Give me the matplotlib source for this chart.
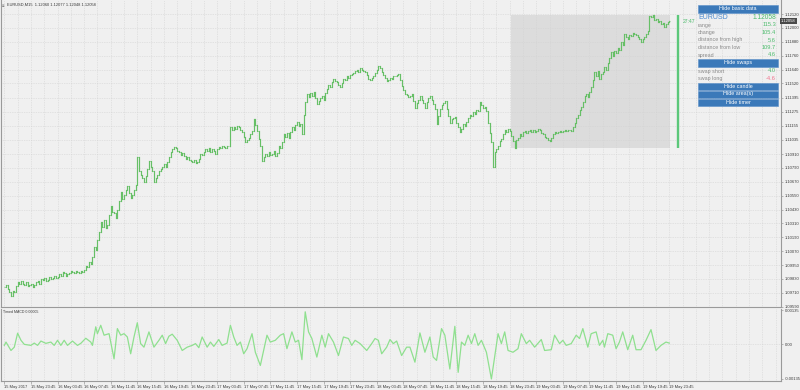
import numpy as np
import matplotlib
matplotlib.use("Agg")
import matplotlib.pyplot as plt
from matplotlib.patches import Rectangle
from matplotlib.transforms import blended_transform_factory

plt.rcParams['font.family'] = ['Liberation Sans', 'DejaVu Sans']

# EURUSD M15 closes, in pips above 1.09000 (bar 0 = 15 May 19:45, bar 400 = 19 May 23:45)
closes = [
    76, 78, 74, 72, 68, 73, 72, 77, 80, 79,
    81, 79, 78, 80, 77, 78, 79, 76, 78, 80,
    81, 79, 83, 82, 84, 81, 82, 85, 83, 84,
    86, 84, 85, 87, 86, 89, 88, 86, 87, 88,
    90, 89, 88, 90, 89, 88, 90, 89, 91, 94,
    93, 98, 96, 102, 111, 108, 117, 124, 132, 128,
    134, 127, 130, 138, 146, 141, 140, 136, 143, 150,
    158, 152, 156, 160, 163, 157, 153, 156, 160, 164,
    188, 176, 173, 170, 167, 172, 178, 185, 180, 176,
    167, 170, 173, 176, 178, 180, 182, 180, 184, 188,
    193, 195, 197, 196, 194, 193, 190, 192, 189, 187,
    188, 186, 185, 184, 186, 183, 184, 187, 191, 190,
    193, 195, 194, 196, 193, 195, 194, 191, 195, 197,
    196, 198, 197, 196, 198, 198, 214, 212, 214, 213,
    215, 214, 212, 210, 206, 201, 203, 205, 208, 211,
    221, 216, 211, 204, 198, 185, 188, 191, 189, 193,
    190, 191, 194, 189, 192, 198, 196, 201, 208, 206,
    209, 205, 210, 214, 212, 216, 219, 215, 217, 208,
    225, 236, 243, 240, 244, 241, 245, 239, 234, 237,
    239, 241, 238, 244, 247, 251, 249, 253, 256, 254,
    253, 251, 249, 252, 256, 255, 258, 257, 259, 260,
    261, 263, 264, 262, 265, 264, 263, 262, 259, 256,
    255, 257, 258, 261, 264, 267, 265, 262, 259, 257,
    254, 255, 257, 256, 258, 258, 259, 260, 255, 250,
    246, 243, 242, 240, 241, 243, 237, 231, 235, 238,
    241, 238, 235, 231, 236, 239, 241, 238, 234, 230,
    217, 224, 230, 233, 235, 237, 230, 224, 218, 221,
    222, 223, 218, 214, 210, 213, 217, 215, 219, 222,
    225, 224, 227, 226, 229, 228, 236, 233, 231, 232,
    228, 218, 209, 201, 180, 193, 195, 198, 202, 204,
    208, 212, 210, 213, 211, 207, 202, 196, 203, 205,
    208, 207, 210, 211, 209, 211, 212, 210, 212, 210,
    211, 213, 212, 209, 208, 206, 205, 203, 202, 205,
    208, 210, 209, 210, 211, 210, 211, 212, 211, 212,
    212, 211, 214, 218, 222, 225, 229, 232, 236, 241,
    243, 240, 245, 249, 255, 262, 258, 263, 256, 260,
    262, 266, 264, 270, 274, 279, 276, 280, 278, 283,
    281, 288, 285, 295, 292, 290, 294, 293, 296, 295,
    294, 292, 290, 288, 290, 292, 295, 297, 310, 309,
    311, 307, 308, 305, 306, 303, 304, 301, 303, 305,
    305.8,
]

# Timed MACD readings (bar index, value in 1e-5)
macd_idx = [0, 1, 4, 6, 8, 10, 12, 16, 18, 20, 22, 25, 28, 30, 32, 34, 36, 38, 41, 44,
            46, 49, 52, 53, 55, 56, 58, 60, 63, 66, 68, 70, 72, 74, 76, 78, 80, 82, 84, 87,
            90, 93, 95, 97, 99, 101, 104, 107, 110, 113, 115, 117, 119, 122, 124, 126, 129, 131, 134, 136,
            138, 140, 142, 144, 146, 149, 151, 154, 156, 158, 160, 163, 166, 168, 170, 173, 175, 177, 179, 181,
            183, 185, 188, 191, 193, 195, 198, 201, 204, 207, 209, 211, 214, 218, 221, 223, 225, 227, 230, 232,
            234, 236, 239, 242, 244, 247, 250, 253, 256, 258, 260, 263, 265, 268, 271, 273, 275, 277, 279, 281,
            283, 285, 287, 290, 293, 297, 299, 301, 303, 306, 309, 311, 314, 316, 319, 323, 325, 329, 331, 334,
            336, 338, 341, 344, 346, 348, 351, 353, 356, 358, 360, 361, 363, 366, 368, 370, 372, 375, 378, 380,
            383, 386, 389, 392, 395, 398, 400]
macd_val = [-4, 9, -24, -11, 44, 16, 0, -4, 5, -4, 13, 4, 9, -4, 16, -4, 16, -4, 13, -4,
            4, 24, 9, -4, 69, 42, 75, 36, 42, -57, 62, 36, 42, 29, -37, 29, 85, 3, -11, 49,
            -11, 16, 36, 3, 32, 40, 16, -24, -11, -4, 3, -13, 29, -11, 9, -8, 19, -4, 5, 75,
            29, -4, 9, -37, -17, 42, -31, -83, -24, 36, 9, 16, 36, 42, -17, 49, 9, 16, -60, 128,
            49, 23, -50, 36, -11, 42, 9, -44, 29, 23, -4, 16, 3, -24, 3, 23, 16, -37, -11, 19,
            3, 13, -44, -11, -11, -70, 45, -31, 29, -50, -63, 62, 36, -97, 71, -110, 9, -4, 36, 3,
            42, -4, 16, -31, -136, 42, 3, 49, -24, -31, -17, 42, 3, 16, -11, 19, -24, -21, 36, 3,
            16, -4, 3, 36, 23, 62, -11, 42, 49, -4, 16, -11, 42, 36, -17, 9, 49, -21, 36, -21,
            -21, 16, 58, -24, -4, 9, 5]

price_labels = ["1.12120", "1.12000", "1.11880", "1.11760", "1.11640", "1.11520", "1.11395",
                "1.11275", "1.11155", "1.11035", "1.10910", "1.10790", "1.10670", "1.10550",
                "1.10430", "1.10310", "1.10190", "1.10070", "1.09950", "1.09830", "1.09710",
                "1.09590"]
time_labels = ["15 May 2017", "15 May 23:45", "16 May 03:45", "16 May 07:45", "16 May 11:45",
               "16 May 15:45", "16 May 19:45", "16 May 23:45", "17 May 03:45", "17 May 07:45",
               "17 May 11:45", "17 May 15:45", "17 May 19:45", "17 May 23:45", "18 May 03:45",
               "18 May 07:45", "18 May 11:45", "18 May 15:45", "18 May 19:45", "18 May 23:45",
               "19 May 03:45", "19 May 07:45", "19 May 11:45", "19 May 15:45", "19 May 19:45",
               "19 May 23:45"]

# today's stats (19 May)
day_start = 305
day_high = 1.12114
day_low = 1.10961
last_price = 1.12058

info_rows = [("range", "115.3"), ("change", "105.4"), ("distance from high", "5.6"),
             ("distance from low", "109.7"), ("spread", "4.6")]
swap_rows = [("swap short", "4.0"), ("swap long", "-4.6")]

BG = "#f0f0f0"
BAR = "#66bf66"
GRID = "#d2d2d2"
FRAME = "#9a9a9a"
TXT = "#3a3a3a"
BTN = "#3b79b9"
VAL = "#4cbb6c"

W, H = 800, 390


def px_axes(fig, left, top, right, bottom):
    return fig.add_axes([left / W, 1 - bottom / H, (right - left) / W, (bottom - top) / H])


fig = plt.figure(figsize=(8, 3.9), dpi=100, facecolor=BG)
ax = px_axes(fig, 1, 0, 781, 307)
ax2 = px_axes(fig, 1, 309, 781, 381)

c = 1.09 + np.array(closes) / 10000
o = np.r_[c[0], c[:-1]]
idx = np.arange(len(c))

for a in (ax, ax2):
    a.set_facecolor(BG)
    a.set_xlim(-2.0, 467.2)
    for s in a.spines.values():
        s.set_color(FRAME)
        s.set_linewidth(0.8)
    a.spines['top'].set_visible(False)
    for g in np.arange(0, 468, 8):
        a.axvline(g, color=GRID, lw=0.5, ls=(0, (1, 1.5)), zorder=0.5)

# main price panel
ax.set_ylim(1.09588, 1.12241)
for lab in price_labels:
    ax.axhline(float(lab), color=GRID, lw=0.5, ls=(0, (1, 1.5)), zorder=0.5)
ax.add_patch(Rectangle((day_start - 0.5, day_low), len(c) - day_start, day_high - day_low,
                       facecolor="#dcdcdc", edgecolor="none", zorder=0.3))
ax.vlines(idx, np.minimum(o, c), np.maximum(o, c), color=BAR, lw=0.85, zorder=2,
          capstyle='projecting')
ax.hlines(o, idx - 0.45, idx, color=BAR, lw=0.5, zorder=2)
ax.hlines(c, idx, idx + 0.45, color=BAR, lw=0.5, zorder=2)

# daily candle + timer at the right
ax.vlines(len(c) + 4.3, day_low, day_high, color="#5cc87a", lw=1.7, zorder=2)
ax.text(len(c) + 7, 1.12053, "27:47", color=VAL, fontsize=3.6, va='center', ha='left')

ax.yaxis.tick_right()
ax.set_yticks([float(v) for v in price_labels])
ax.set_yticklabels(price_labels)
ax.tick_params(axis='y', length=1.5, width=0.5, pad=1, labelsize=3.0, colors=FRAME, labelcolor=TXT)
ax.set_xticks([])
ax.text(1.0, last_price, "1.12058", transform=blended_transform_factory(ax.transAxes, ax.transData),
        fontsize=3.0, color="white", va='center', ha='left',
        bbox=dict(boxstyle="square,pad=0.25", fc="#4a4a4a", ec="none"))

# MACD panel
ax2.set_ylim(-0.00144, 0.00139)
ax2.axhline(0, color=GRID, lw=0.5, ls=(0, (1, 1.5)), zorder=0.5)
ax2.plot(macd_idx, np.array(macd_val) * 1e-5, color="#8fe08f", lw=0.9, zorder=2)
ax2.yaxis.tick_right()
ax2.set_yticks([0.00135, 0, -0.00135])
ax2.set_yticklabels(["0.00135", "0.00", "-0.00135"])
ax2.tick_params(axis='y', length=1.5, width=0.5, pad=1, labelsize=3.0, colors=FRAME, labelcolor=TXT)
ax2.set_xticks(np.arange(0, len(c), 16))
ax2.set_xticklabels(time_labels, ha='left')
ax2.tick_params(axis='x', length=2.2, width=0.5, pad=0.8, labelsize=2.85, colors=FRAME, labelcolor=TXT)
ax2.text(0.003, 0.985, "Timed MACD 0.00005", transform=ax2.transAxes, fontsize=2.6,
         color=TXT, va='top', ha='left')

# overlay in pixel coordinates for the info panel and title
ui = fig.add_axes([0, 0, 1, 1], facecolor="none")
ui.set_xlim(0, W)
ui.set_ylim(H, 0)
ui.axis('off')
ui.text(2, 5, "\u2261", fontsize=3, color=TXT, va='center', ha='left')
ui.text(7, 5, "EURUSD,M15  1.12060 1.12077 1.12048 1.12058", fontsize=2.9, color=TXT,
        va='center', ha='left')


def button(y0, y1, label):
    ui.add_patch(Rectangle((698, y0), 80, y1 - y0, facecolor=BTN, edgecolor="#5a8fc8", lw=0.4))
    ui.text(738, (y0 + y1) / 2, label, fontsize=3.9, color="white", ha='center', va='center')


button(4.5, 12.5, "Hide basic data")
ui.text(698, 17.5, "EURUSD", fontsize=5.0, color="#4a8ad0", va='center', ha='left')
ui.text(776, 17.5, "1.12058", fontsize=4.8, color=VAL, va='center', ha='right')
for k, (lab, val) in enumerate(info_rows):
    y = 25 + k * 7.5
    ui.text(698, y, lab, fontsize=3.9, color="#8a8a8a", va='center', ha='left')
    ui.text(776, y, val, fontsize=4.1, color=VAL, va='center', ha='right')
button(59, 66.5, "Hide swaps")
for k, (lab, val) in enumerate(swap_rows):
    y = 71 + k * 7.5
    ui.text(698, y, lab, fontsize=3.9, color="#8a8a8a", va='center', ha='left')
    ui.text(776, y, val, fontsize=4.1, color=VAL if not val.startswith("-") else "#f0708a",
            va='center', ha='right')
button(82.5, 89.5, "Hide candle")
button(90.5, 97.5, "Hide area(s)")
button(98.5, 105.5, "Hide timer")

fig.savefig("out.png", dpi=100, facecolor=BG)
